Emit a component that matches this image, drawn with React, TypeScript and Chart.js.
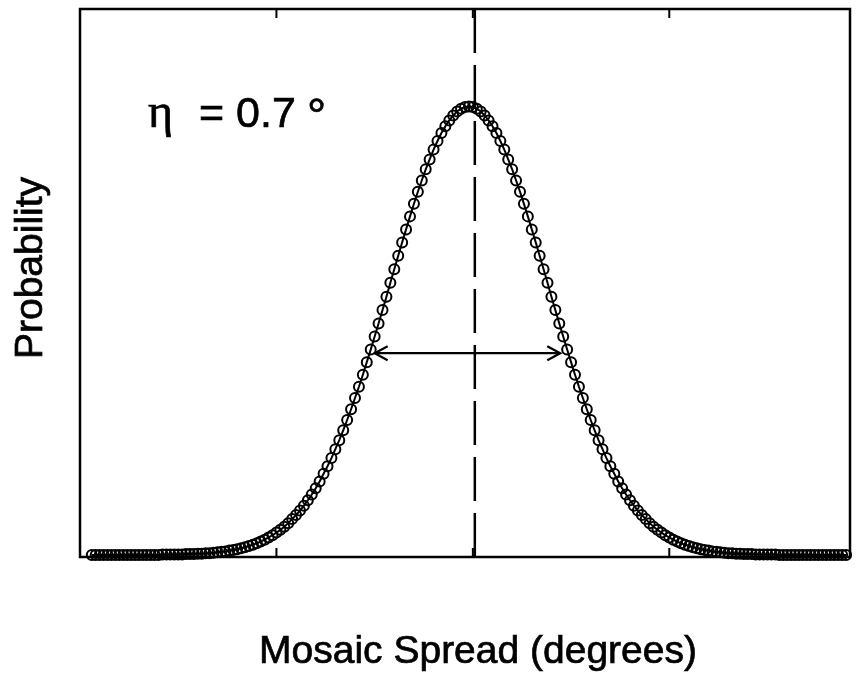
import React, { useEffect, useRef } from "react";
import { Chart, registerables } from "chart.js";

Chart.register(...registerables);

// Sampling of the mosaic-spread axis (degrees-like units, ticks at -1, 0, 1)
const angleStart = -1.94;
const angleStep = 0.02;

// Probability (peak normalised to 1)
const probabilityLeft = [
  0, 0, 0, 0, 0, 0, 0, 0, 0, 0, 0, 0, 0, 0, 0, 0, 0, 0,
  0.001, 0.001, 0.001, 0.001, 0.001, 0.001,
  0.002, 0.002, 0.002,
  0.003, 0.003, 0.004, 0.004, 0.005, 0.006, 0.007, 0.008, 0.010, 0.011,
  0.013, 0.015, 0.017, 0.020, 0.023, 0.026, 0.030, 0.034, 0.039, 0.044,
  0.050, 0.056, 0.063, 0.071, 0.080, 0.089, 0.099, 0.110, 0.122, 0.135,
  0.149, 0.164, 0.181, 0.198, 0.216, 0.236, 0.256, 0.278, 0.301, 0.325,
  0.350, 0.375, 0.402, 0.430, 0.458, 0.487, 0.516, 0.546, 0.576, 0.607,
  0.637, 0.667, 0.697, 0.726, 0.755, 0.783, 0.810, 0.835, 0.860, 0.882,
  0.904, 0.923, 0.941, 0.956, 0.969, 0.980, 0.989, 0.995, 0.999,
];
const probabilityPeak = [1.0];
const probabilityRight = [
  0.999, 0.995, 0.989, 0.980, 0.969, 0.956, 0.941, 0.923, 0.904,
  0.882, 0.860, 0.835, 0.810, 0.783, 0.755, 0.726, 0.697, 0.667, 0.637,
  0.607, 0.576, 0.546, 0.516, 0.487, 0.458, 0.430, 0.402, 0.375, 0.350,
  0.325, 0.301, 0.278, 0.256, 0.236, 0.216, 0.198, 0.181, 0.164, 0.149,
  0.135, 0.122, 0.110, 0.099, 0.089, 0.080, 0.071, 0.063, 0.056, 0.050,
  0.044, 0.039, 0.034, 0.030, 0.026, 0.023, 0.020, 0.017, 0.015, 0.013,
  0.011, 0.010, 0.008, 0.007, 0.006, 0.005, 0.004, 0.004, 0.003, 0.003,
  0.002, 0.002, 0.002,
  0.001, 0.001, 0.001, 0.001, 0.001, 0.001,
  0, 0, 0, 0, 0, 0, 0, 0, 0, 0, 0, 0, 0, 0, 0, 0, 0, 0,
];

const xTickValues = [-1, 0, 1];
const centerLineValue = 0.01;
const arrowLevel = 0.45;
const arrowFrom = -0.5;
const arrowTo = 0.445;

const xLabel = "Mosaic Spread (degrees)";
const yLabel = "Probability";
const etaSymbol = "η";
const etaValue = "= 0.7";
const degreeSymbol = "°";

const SANS = "'Liberation Sans', Arial, Helvetica, sans-serif";
const SERIF = "'Liberation Serif', 'Times New Roman', serif";

function heavyText(ctx: CanvasRenderingContext2D, s: string, x: number, y: number) {
  ctx.fillText(s, x, y);
  ctx.strokeText(s, x, y);
}

const decorPlugin = {
  id: "decor",
  beforeDatasetsDraw(chart: any) {
    const { ctx, chartArea: a, scales } = chart;
    const cx = scales.x.getPixelForValue(centerLineValue);
    ctx.save();
    ctx.strokeStyle = "#000";
    ctx.lineWidth = 2.5;
    ctx.setLineDash([44, 12]);
    ctx.beginPath();
    ctx.moveTo(cx, a.top);
    ctx.lineTo(cx, a.bottom);
    ctx.stroke();
    ctx.restore();
  },
  afterDraw(chart: any) {
    const { ctx, chartArea: a, scales } = chart;
    const xs = scales.x;
    const ys = scales.y;
    ctx.save();
    ctx.strokeStyle = "#000";
    ctx.fillStyle = "#000";
    ctx.lineWidth = 2.5;
    ctx.setLineDash([]);
    // frame
    ctx.strokeRect(a.left, a.top, a.right - a.left, a.bottom - a.top);
    // ticks (inward)
    ctx.lineWidth = 2;
    ctx.beginPath();
    for (const t of xTickValues) {
      const px = xs.getPixelForValue(t);
      ctx.moveTo(px, a.top);
      ctx.lineTo(px, a.top + 9);
      ctx.moveTo(px, a.bottom);
      ctx.lineTo(px, a.bottom - 9);
    }
    ctx.stroke();
    // double arrow
    const ay = ys.getPixelForValue(arrowLevel);
    const x1 = xs.getPixelForValue(arrowFrom);
    const x2 = xs.getPixelForValue(arrowTo);
    ctx.lineWidth = 2.2;
    ctx.beginPath();
    ctx.moveTo(x1, ay);
    ctx.lineTo(x2, ay);
    ctx.moveTo(x1 + 13, ay - 7);
    ctx.lineTo(x1, ay);
    ctx.lineTo(x1 + 13, ay + 7);
    ctx.moveTo(x2 - 13, ay - 7);
    ctx.lineTo(x2, ay);
    ctx.lineTo(x2 - 13, ay + 7);
    ctx.stroke();
    // annotation text
    ctx.lineWidth = 0.7;
    ctx.textBaseline = "alphabetic";
    ctx.textAlign = "left";
    ctx.font = `48px ${SERIF}`;
    heavyText(ctx, etaSymbol, 148, 127);
    ctx.font = `43px ${SANS}`;
    heavyText(ctx, etaValue, 199, 127);
    ctx.font = `48px ${SANS}`;
    heavyText(ctx, degreeSymbol, 307, 132);
    // axis titles
    ctx.font = `39px ${SANS}`;
    ctx.textAlign = "center";
    heavyText(ctx, xLabel, 478, 663);
    ctx.save();
    ctx.translate(42, 268);
    ctx.rotate(-Math.PI / 2);
    heavyText(ctx, yLabel, 0, 0);
    ctx.restore();
    ctx.restore();
  },
};

export default function App() {
  const canvasRef = useRef<HTMLCanvasElement | null>(null);

  useEffect(() => {
    document.body.style.margin = "0";
    const canvas = canvasRef.current;
    if (!canvas) return;
    const values = [...probabilityLeft, ...probabilityPeak, ...probabilityRight];
    const points = values.map((v, i) => ({ x: angleStart + i * angleStep, y: v }));
    const chart = new Chart(canvas, {
      type: "scatter",
      data: {
        datasets: [
          {
            data: points,
            showLine: true,
            borderColor: "#000",
            borderWidth: 2,
            pointRadius: 5,
            pointBorderWidth: 2,
            pointBorderColor: "#000",
            pointBackgroundColor: "rgba(0,0,0,0)",
            tension: 0,
            clip: 8,
          } as any,
        ],
      },
      options: {
        responsive: false,
        animation: false,
        devicePixelRatio: 1,
        layout: { padding: { left: 80, top: 9, right: 1, bottom: 118 } },
        scales: {
          x: { type: "linear", min: -2.0, max: 1.92, display: false },
          y: { type: "linear", min: -0.0045, max: 1.2174, display: false },
        },
        plugins: { legend: { display: false }, tooltip: { enabled: false } },
      },
      plugins: [decorPlugin],
    });
    return () => chart.destroy();
  }, []);

  return (
    <div style={{ width: 857, height: 675, background: "#fff" }}>
      <canvas ref={canvasRef} width={857} height={675} style={{ display: "block" }} />
    </div>
  );
}
